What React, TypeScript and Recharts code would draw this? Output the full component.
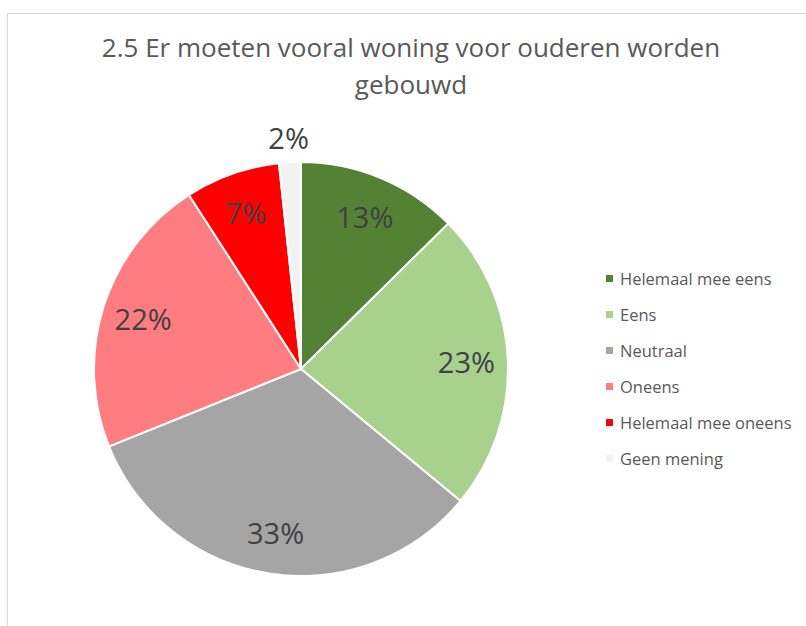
import * as React from "react";
import { PieChart, Pie, Cell, Legend } from "recharts";

const categories = [
  "Helemaal mee eens",
  "Eens",
  "Neutraal",
  "Oneens",
  "Helemaal mee oneens",
  "Geen mening",
];
const shares = [12.6, 23.4, 32.9, 22.0, 7.4, 1.7];
const labels = ["13%", "23%", "33%", "22%", "7%", "2%"];
const colors = ["#548235", "#a9d18e", "#a5a5a5", "#ff7c80", "#ff0000", "#f2f2f2"];

const titleLines = ["2.5 Er moeten vooral woning voor ouderen worden", "gebouwd"];

const data = categories.map((name, i) => ({ name, value: shares[i], label: labels[i] }));

const FONT = "'Open Sans', 'Noto Sans', sans-serif";
const RAD = Math.PI / 180;

function SliceLabel(props: any) {
  const { cx, cy, midAngle, outerRadius, payload } = props;
  const small = payload.value < 3;
  const r = small ? outerRadius + 25 : outerRadius * 0.8;
  const x = cx + r * Math.cos(-midAngle * RAD);
  const y = cy + r * Math.sin(-midAngle * RAD);
  return (
    <text
      x={x}
      y={y}
      textAnchor="middle"
      dominantBaseline="central"
      fontFamily={FONT}
      fontSize={29}
      fill="#404040"
    >
      {payload.label}
    </text>
  );
}

function LegendList() {
  return (
    <div style={{ fontFamily: FONT, fontSize: 16.5, color: "#595959" }}>
      {data.map((d, i) => (
        <div key={d.name} style={{ display: "flex", alignItems: "center", height: 36 }}>
          <span
            style={{ display: "inline-block", width: 7, height: 7, background: colors[i], marginRight: 7 }}
          />
          <span>{d.name}</span>
        </div>
      ))}
    </div>
  );
}

export default function App() {
  return (
    <div
      style={{
        position: "fixed",
        left: 0,
        top: 0,
        width: 806,
        height: 626,
        overflow: "hidden",
        background: "#fff",
      }}
    >
      <div
        style={{
          position: "absolute",
          left: 7,
          top: 13,
          width: 840,
          height: 660,
          border: "1px solid #d9d9d9",
        }}
      />
      <div
        style={{
          position: "absolute",
          left: 0,
          top: 29,
          width: 822,
          textAlign: "center",
          fontFamily: FONT,
          fontSize: 26,
          lineHeight: "37px",
          color: "#595959",
        }}
      >
        {titleLines.map((t) => (
          <div key={t}>{t}</div>
        ))}
      </div>
      <div style={{ position: "absolute", left: 0, top: 0 }}>
        <PieChart width={806} height={626} margin={{ top: 0, right: 0, bottom: 0, left: 0 }}>
          <Pie
            data={data}
            dataKey="value"
            nameKey="name"
            cx={301}
            cy={369}
            outerRadius={207}
            startAngle={90}
            endAngle={-270}
            stroke="#ffffff"
            strokeWidth={2}
            label={SliceLabel}
            labelLine={false}
            isAnimationActive={false}
          >
            {data.map((d, i) => (
              <Cell key={d.name} fill={colors[i]} />
            ))}
          </Pie>
          <Legend
            layout="vertical"
            content={() => <LegendList />}
            wrapperStyle={{ left: 606, top: 260, width: 200 }}
          />
        </PieChart>
      </div>
    </div>
  );
}
